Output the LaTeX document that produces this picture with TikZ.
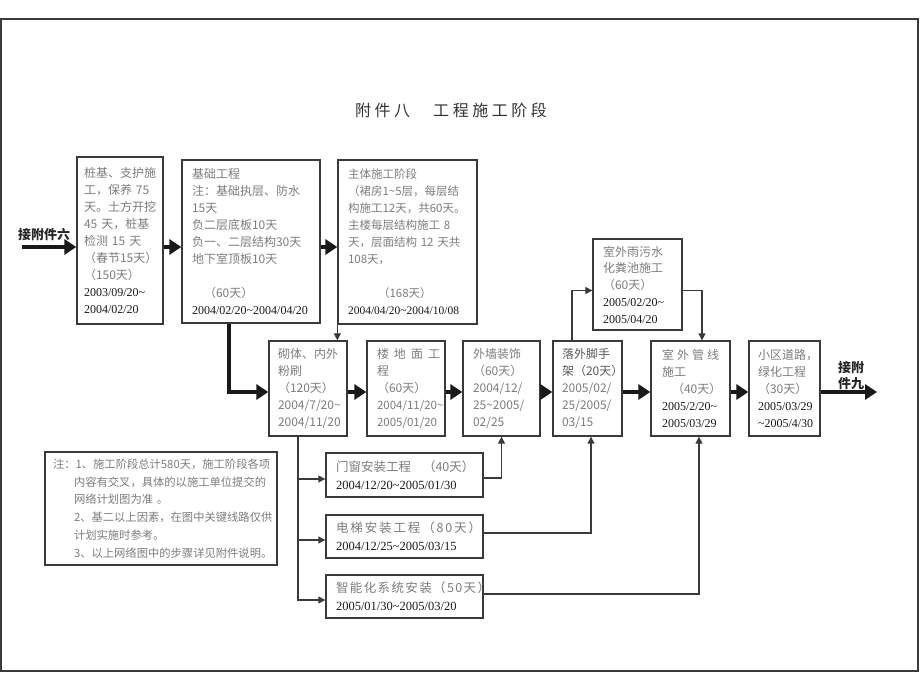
\documentclass[tikz,border=0pt]{standalone}
\usepackage{fontspec}
\usepackage{tikz}
\usepackage{xcolor}
\usetikzlibrary{arrows.meta, positioning}
\setmainfont{Noto Sans CJK SC}
\newfontfamily\datefont{Liberation Serif}
\newfontfamily\titlefont[LetterSpace=22]{Noto Sans CJK SC}
\definecolor{BoxGray}{HTML}{7C7C7C}
\definecolor{LineGray}{HTML}{3A3A3A}
\newcommand{\wave}{\textasciitilde}
\newcommand{\dte}[1]{{\datefont\color{black!90}#1}}

\begin{document}
\begin{tikzpicture}[x=1pt, y=-1pt,
                stage/.style={draw=LineGray, line width=1.3pt, align=left, inner ysep=0pt,
                              text=BoxGray, font=\fontsize{12}{17}\selectfont},
                rowstage/.style={stage, minimum height=95pt},
                sidestage/.style={stage, inner xsep=10pt, text width=137pt, minimum height=43pt,
                                  font=\fontsize{12.5}{18}\selectfont},
                bigarrow/.style={line width=3.8pt, black!90, -{Triangle[length=12pt,width=15pt]}},
                smallarrow/.style={line width=1.2pt, LineGray, -{Triangle[length=7pt,width=7pt]}},
                linklabel/.style={inner sep=0pt, align=left, text=black!85,
                                  font=\bfseries\fontsize{13}{16}\selectfont}
            ]

            \useasboundingbox (0,0) rectangle (920,690);
            \draw[LineGray, line width=1.2pt] (1,19) rectangle (918,671);

            \node[font=\titlefont\fontsize{16}{16}\selectfont, text=black!80] (title) at (451,110) {附件八　工程施工阶段};

            % first row
            \node[stage, inner xsep=7pt, text width=72pt, minimum height=167pt] (zhuangji) at (120,240.5) {
                桩基、支护施\\
                工，保养 75\\
                天。土方开挖\\
                45 天，桩基\\
                检测 15 天\\
                （春节15天）\\
                （150天）\\
                \dte{2003/09/20\wave}\\
                \dte{2004/02/20}};
            \node[stage, inner xsep=10pt, text width=118pt, minimum height=163pt] (jichu) at (251,241.5) {
                基础工程\\
                注：基础执层、防水\\
                15天\\
                负二层底板10天\\
                负一、二层结构30天\\
                地下室顶板10天\\[17pt]
                \hspace*{12pt}（60天）\\
                \dte{2004/02/20\wave 2004/04/20}};
            \node[stage, inner xsep=10pt, text width=119pt, minimum height=164pt,
                  font=\fontsize{11.5}{17}\selectfont] (zhuti) at (407.5,242) {
                主体施工阶段\\
                （裙房1\wave 5层，每层结\\
                构施工12天，共60天。\\
                主楼每层结构施工 8\\
                天，层面结构 12 天共\\
                108天，\\[17pt]
                \hspace*{30pt}（168天）\\
                \dte{2004/04/20\wave 2004/10/08}};
            \node[stage, inner xsep=10pt, text width=69pt, minimum height=91pt,
                  font=\fontsize{12}{16.75}\selectfont] (yuwu) at (637.5,284.5) {
                室外雨污水\\
                化粪池施工\\
                （60天）\\
                \dte{2005/02/20\wave}\\
                \dte{2005/04/20}};

            % second row
            \node[rowstage, inner xsep=9pt, text width=60pt] (qiti) at (308,388.5) {
                砌体、内外\\
                粉刷\\
                （120天）\\
                2004/7/20\wave\\
                2004/11/20};
            \node[rowstage, inner xsep=10pt, text width=58pt] (loudi) at (406,388.5) {
                楼\kern5pt 地\kern5pt 面\kern5pt 工\\
                程\\
                （60天）\\
                {\fontsize{11.5}{17}\selectfont 2004/11/20\wave}\\
                {\fontsize{11.5}{17}\selectfont 2005/01/20}};
            \node[rowstage, inner xsep=10pt, text width=57pt] (waiqiang) at (501.5,388.5) {
                外墙装饰\\
                （60天）\\
                2004/12/\\
                25\wave 2005/\\
                02/25};
            \node[rowstage, inner xsep=9pt, text width=51pt] (luowai) at (587.5,388.5) {
                \textcolor{black!65}{落外脚手}\\
                \textcolor{black!65}{架（20天）}\\
                2005/02/\\
                25/2005/\\
                03/15};
            \node[rowstage, inner xsep=11pt, text width=57pt] (guanxian) at (690.5,388.5) {
                室\kern3pt 外\kern3pt 管\kern3pt 线\\
                施工\\
                \hspace*{10pt}（40天）\\
                \dte{2005/2/20\wave}\\
                \dte{2005/03/29}};
            \node[rowstage, inner xsep=9pt, text width=53pt] (xiaoqu) at (784.5,388.5) {
                小区道路，\\
                绿化工程\\
                （30天）\\
                \dte{2005/03/29}\\
                \dte{\wave 2005/4/30}};

            % side works
            \node[sidestage, minimum height=44pt] (menchuang) at (404.5,475) {
                门窗安装工程\kern12pt（40天）\\
                \dte{2004/12/20\wave 2005/01/30}};
            \node[sidestage] (dianti) at (404.5,536.5) {
                {\addfontfeature{LetterSpace=15}电梯安装工程（80天）}\\
                \dte{2004/12/25\wave 2005/03/15}};
            \node[sidestage] (zhineng) at (404.5,596.5) {
                {\addfontfeature{LetterSpace=11}智能化系统安装（50天）}\\
                \dte{2005/01/30\wave 2005/03/20}};

            \node[stage, inner xsep=8pt, text width=216pt, minimum height=113pt,
                  font=\fontsize{11.3}{17.7}\selectfont] (notes) at (161,508.5) {
                注：1、施工阶段总计580天，施工阶段各项\\
                \hspace*{21pt}内容有交叉，具体的以施工单位提交的\\
                \hspace*{21pt}网络计划图为准 。\\
                \hspace*{21pt}2、基二以上因素，在图中关键线路仅供\\
                \hspace*{21pt}计划实施时参考。\\
                \hspace*{21pt}3、以上网络图中的步骤详见附件说明。};

            \node[linklabel] (jie6) at (44,235) {接附件六};
            \node[linklabel] (jie9) at (851,376) {接附\\件九};
            \coordinate (start6) at (22,247);
            \coordinate (end9) at (877,392);
            \coordinate (upy) at (0,247);

            % main line
            \draw[bigarrow] (start6) -- (start6 -| zhuangji.west);
            \draw[bigarrow] (zhuangji.east |- upy) -- (jichu.west |- upy);
            \draw[bigarrow] (jichu.east |- upy) -- (zhuti.west |- upy);
            \draw[bigarrow] ([xshift=-22pt]jichu.south) |- ([yshift=-3.5pt]qiti.west);
            \draw[smallarrow] (zhuti.south west) -- (zhuti.south west |- qiti.north);
            \foreach \a/\b in {qiti/loudi, loudi/waiqiang, waiqiang/luowai, luowai/guanxian, guanxian/xiaoqu}
                \draw[bigarrow] ([yshift=-3.5pt]\a.east) -- ([yshift=-3.5pt]\b.west);
            \draw[bigarrow] ([yshift=-3.5pt]xiaoqu.east) -- (end9);

            % branches
            \draw[smallarrow] ([xshift=-15.5pt]luowai.north) |- ([yshift=-6pt]yuwu.west);
            \draw[smallarrow] ([yshift=-6pt]yuwu.east) -| ([xshift=11.5pt]guanxian.north);
            \coordinate (branch) at ([xshift=-10pt]qiti.south);
            \foreach \n/\s in {menchuang/-4pt, dianti/-3.5pt, zhineng/-3.5pt}
                \draw[smallarrow] (branch) |- ([yshift=\s]\n.west);
            \draw[smallarrow] ([yshift=-3pt]menchuang.east) -| (waiqiang.south);
            \draw[smallarrow] ([yshift=3.5pt]dianti.east) -| ([xshift=3.5pt]luowai.south);
            \draw[smallarrow] ([yshift=2.5pt]zhineng.east) -| ([xshift=8.5pt]guanxian.south);

        \end{tikzpicture}
\end{document}
